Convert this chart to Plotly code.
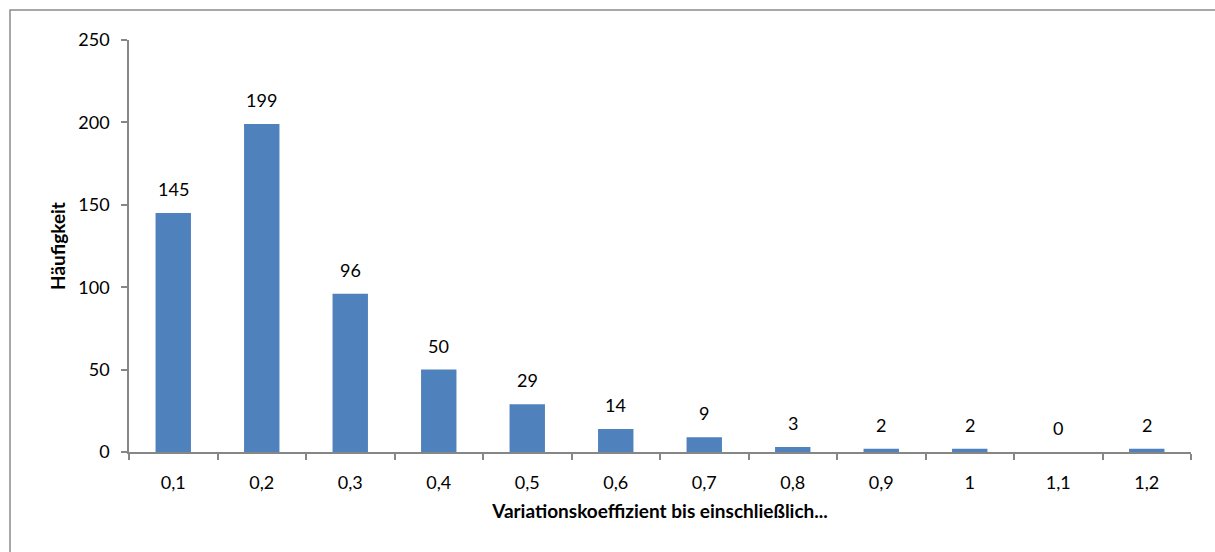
import plotly.graph_objects as go

categories = ["0,1", "0,2", "0,3", "0,4", "0,5", "0,6", "0,7", "0,8", "0,9", "1", "1,1", "1,2"]
counts = [145, 199, 96, 50, 29, 14, 9, 3, 2, 2, 0, 2]
y_ticks = [0, 50, 100, 150, 200, 250]

FONT = "Lato"
W, H = 1215, 552
L, R, T, B = 129, 24, 40, 100
pw, ph = W - L - R, H - T - B

fig = go.Figure()
fig.add_trace(go.Bar(x=categories, y=counts, marker=dict(color="#4f81bd", line=dict(width=0)),
                     hoverinfo="x+y"))

for i, v in enumerate(counts):
    fig.add_annotation(x=i, y=v, text=str(v), showarrow=False, yshift=24,
                       font=dict(family=FONT, size=18, color="#000000"))

def px2x(p):
    return (p - L) / pw

def px2y(p):
    return (H - B - p) / ph

fig.add_shape(type="rect", xref="paper", yref="paper",
              x0=px2x(10), x1=px2x(1217), y0=px2y(554), y1=px2y(10),
              line=dict(color="#8c8c8c", width=1.5), fillcolor="rgba(0,0,0,0)", layer="below")

fig.update_layout(
    width=W, height=H,
    margin=dict(l=L, r=R, t=T, b=B, autoexpand=False),
    paper_bgcolor="white", plot_bgcolor="white",
    bargap=0.6, showlegend=False,
    font=dict(family=FONT, size=18, color="#000000"),
    xaxis=dict(type="category", showline=True, linecolor="#868686", linewidth=1.5,
               ticks="outside", ticklen=6, tickcolor="#868686", tickwidth=1.5,
               tickson="boundaries", showgrid=False, ticklabelstandoff=14, automargin=False,
               title=dict(text="<b>Variationskoeffizient bis einschließlich...</b>",
                          font=dict(family=FONT, size=19), standoff=12)),
    yaxis=dict(range=[0, 250], tickvals=y_ticks, showline=True, linecolor="#868686", linewidth=1.5,
               ticks="outside", ticklen=6, tickcolor="#868686", tickwidth=1.5,
               showgrid=False, zeroline=False, ticklabelstandoff=8, automargin=False,
               title=dict(text="<b>Häufigkeit</b>", font=dict(family=FONT, size=19), standoff=8)),
)

fig.write_html("out.html", config={"displayModeBar": False},
               post_script="document.body.style.margin='0';document.body.style.overflow='hidden';")
